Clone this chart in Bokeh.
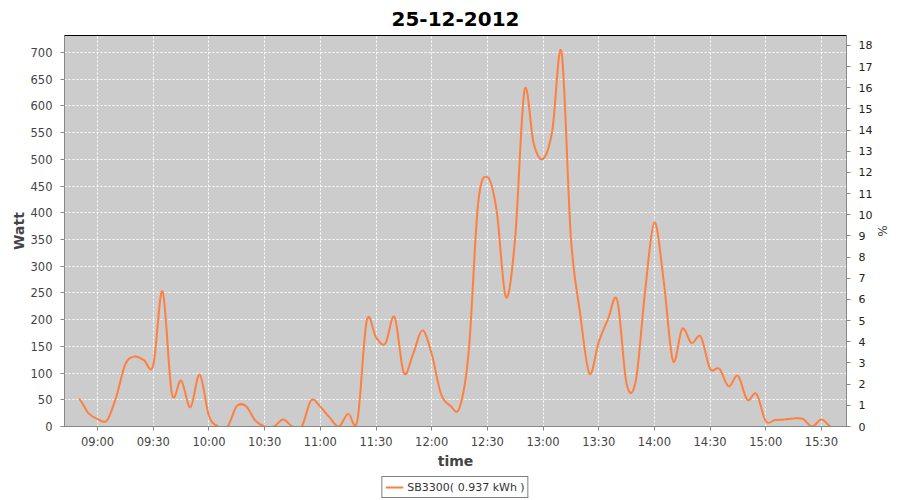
import numpy as np
import pandas as pd
from bokeh.plotting import figure
from bokeh.layouts import column
from bokeh.models import (Range1d, LinearAxis, FixedTicker, DatetimeTickFormatter,
                          Legend, LegendItem)
from bokeh.embed import file_html
from bokeh.resources import INLINE

# ---------------- data ----------------
day = "2012-12-25"
title_text = "25-12-2012"
series_name = "SB3300( 0.937 kWh )"

times = ["08:50", "08:55", "09:00", "09:05", "09:10", "09:15", "09:20", "09:25",
         "09:30", "09:35", "09:40", "09:45", "09:50", "09:55", "10:00", "10:05",
         "10:10", "10:15", "10:20", "10:25", "10:30", "10:35", "10:40", "10:45",
         "10:50", "10:55", "11:00", "11:05", "11:10", "11:15", "11:20", "11:25",
         "11:30", "11:35", "11:40", "11:45", "11:50", "11:55", "12:00", "12:05",
         "12:10", "12:15", "12:20", "12:25", "12:30", "12:35", "12:40", "12:45",
         "12:50", "12:55", "13:00", "13:05", "13:10", "13:15", "13:20", "13:25",
         "13:30", "13:35", "13:40", "13:45", "13:50", "13:55", "14:00", "14:05",
         "14:10", "14:15", "14:20", "14:25", "14:30", "14:35", "14:40", "14:45",
         "14:50", "14:55", "15:00", "15:05", "15:10", "15:15", "15:20", "15:25",
         "15:30", "15:35"]
watts = [52, 25, 14, 11, 55, 117, 131, 124,
         115, 253, 62, 86, 36, 97, 20, 0,
         0, 38, 38, 11, 0, 0, 13, 0,
         0, 49, 37, 17, 0, 24, 12, 198,
         167, 155, 205, 100, 136, 180, 136, 61,
         39, 35, 142, 417, 467, 404, 242, 354,
         629, 529, 501, 554, 700, 354, 211, 99,
         158, 201, 236, 80, 86, 254, 382, 273,
         123, 183, 156, 168, 108, 108, 75, 95,
         50, 61, 10, 12, 13, 15, 14, 0,
         13, 0]

x_tick_labels = ["09:00", "09:30", "10:00", "10:30", "11:00", "11:30", "12:00",
                 "12:30", "13:00", "13:30", "14:00", "14:30", "15:00", "15:30"]
watt_ticks = [0, 50, 100, 150, 200, 250, 300, 350, 400, 450, 500, 550, 600, 650, 700]
pct_ticks = [0, 1, 2, 3, 4, 5, 6, 7, 8, 9, 10, 11, 12, 13, 14, 15, 16, 17, 18]
x_start, x_end = "08:42:10", "15:43:30"
watt_max = 731.8
pct_max = 18.47

LINE_COLOR = "#FF7F3F"
FONT = "DejaVu Sans"


def ms(t):
    return pd.Timestamp(f"{day} {t}").value / 1e6


xs = np.array([ms(t) for t in times])
ys = np.array(watts, dtype=float)

# smooth rendering of the sampled series (Catmull-Rom as cubic Bezier segments)
xp = np.concatenate([[2 * xs[0] - xs[1]], xs, [2 * xs[-1] - xs[-2]]])
yp = np.concatenate([[ys[0]], ys, [ys[-1]]])
x0, y0 = xs[:-1], ys[:-1]
x1, y1 = xs[1:], ys[1:]
cx0 = xp[1:-2] + (xp[2:-1] - xp[0:-3]) / 6.0
cy0 = yp[1:-2] + (yp[2:-1] - yp[0:-3]) / 6.0
cx1 = xp[2:-1] - (xp[3:] - xp[1:-2]) / 6.0
cy1 = yp[2:-1] - (yp[3:] - yp[1:-2]) / 6.0

p = figure(width=900, height=474, output_backend="svg", toolbar_location=None,
           x_axis_type="datetime",
           x_range=Range1d(ms(x_start), ms(x_end)),
           y_range=Range1d(0, watt_max),
           min_border_left=64, min_border_right=54, min_border_top=35,
           min_border_bottom=48)

p.background_fill_color = "#CCCCCC"
p.border_fill_color = "white"
p.outline_line_color = "black"
p.outline_line_width = 1

p.title.text = title_text
p.title.align = "center"
p.title.text_font = FONT
p.title.text_font_size = "20px"
p.title.text_font_style = "bold"
p.title.text_color = "black"
p.title.standoff = 19
p.title.offset = 0

r = p.bezier(x0=x0, y0=y0, x1=x1, y1=y1, cx0=cx0, cy0=cy0, cx1=cx1, cy1=cy1,
             line_color=LINE_COLOR, line_width=2)

# axes
p.extra_y_ranges = {"pct": Range1d(0, pct_max)}
right = LinearAxis(y_range_name="pct", axis_label="%")
p.add_layout(right, "right")

p.xaxis.ticker = FixedTicker(ticks=[ms(t) for t in x_tick_labels])
p.xaxis.formatter = DatetimeTickFormatter(
    milliseconds="%H:%M", seconds="%H:%M", minsec="%H:%M", minutes="%H:%M",
    hourmin="%H:%M", hours="%H:%M", days="%H:%M", months="%H:%M", years="%H:%M")
p.xaxis.axis_label = "time"
p.yaxis[0].ticker = FixedTicker(ticks=watt_ticks)
p.yaxis[0].axis_label = "Watt"
right.ticker = FixedTicker(ticks=pct_ticks)

for ax in p.xaxis + p.yaxis:
    ax.axis_line_color = "#888888"
    ax.major_tick_line_color = "#888888"
    ax.minor_tick_line_color = None
    ax.major_tick_in = 0
    ax.major_tick_out = 4
    ax.major_label_text_font = FONT
    ax.major_label_text_font_size = "11.5px"
    ax.major_label_text_color = "#444444"
    ax.major_label_standoff = 8
    ax.axis_label_text_font = FONT
    ax.axis_label_text_font_size = "14px"
    ax.axis_label_text_font_style = "bold"
    ax.axis_label_text_color = "#444444"
    ax.axis_label_standoff = 1
p.xaxis.major_label_standoff = 4
p.xaxis.axis_label_standoff = 1
right.major_label_text_color = "#222222"
right.major_label_text_font_size = "11px"
right.axis_label_text_font_style = "normal"
right.axis_label_text_font_size = "12px"
right.axis_label_standoff = 0

# grid
p.xgrid.grid_line_color = "white"
p.ygrid.grid_line_color = "white"
p.xgrid.grid_line_dash = "2 2"
p.ygrid.grid_line_dash = "2 2"
p.xgrid.grid_line_width = 1
p.ygrid.grid_line_width = 1

# legend strip below the chart
pl = figure(width=900, height=26, output_backend="svg", toolbar_location=None,
            x_range=Range1d(0, 1), y_range=Range1d(0, 1),
            x_axis_location=None, y_axis_location=None, min_border=0)
pl.outline_line_color = None
pl.grid.visible = False
pl.background_fill_color = "white"
pl.border_fill_color = "white"
rl = pl.line(x=xs, y=ys, line_color=LINE_COLOR, line_width=2)

legend = Legend(items=[LegendItem(label=series_name, renderers=[rl])],
                location="center", orientation="horizontal")
legend.label_text_font = FONT
legend.label_text_font_size = "11px"
legend.label_text_color = "#333333"
legend.border_line_color = "black"
legend.border_line_width = 1
legend.background_fill_color = "white"
legend.padding = 3
legend.margin = 0
legend.glyph_width = 18
legend.glyph_height = 14
legend.label_height = 14
legend.label_standoff = 4
legend.spacing = 0
pl.add_layout(legend)

layout = column(p, pl, spacing=0)
open("out.html", "w").write(file_html(layout, INLINE))
